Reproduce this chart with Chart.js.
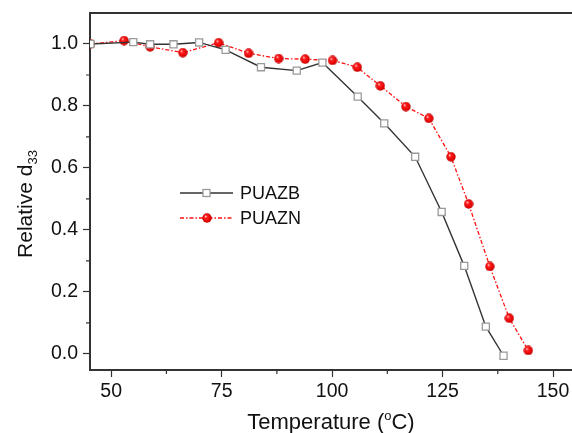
<!DOCTYPE html>
<html>
<head>
<meta charset="utf-8">
<script src="https://cdn.jsdelivr.net/npm/chart.js@4/dist/chart.umd.min.js"></script>
<style>
  html, body { margin: 0; padding: 0; background: #fff; }
</style>
</head>
<body>
<canvas id="d33Chart" width="572" height="433"></canvas>
<script>
// Data
const puazbTemp = [45.3, 55.0, 58.8, 64.1, 69.9, 75.9, 83.9, 92.0, 97.8, 105.8, 111.8, 118.8, 124.8, 129.9, 134.8, 138.8];
const puazbD33  = [1.000, 1.006, 0.999, 0.999, 1.005, 0.981, 0.925, 0.914, 0.940, 0.830, 0.744, 0.636, 0.458, 0.284, 0.088, -0.006];

const puaznTemp = [45.3, 52.9, 58.8, 66.2, 74.3, 81.1, 87.9, 93.9, 100.1, 105.7, 110.9, 116.7, 121.9, 126.9, 130.9, 135.7, 140.1, 144.4];
const puaznD33  = [1.000, 1.011, 0.991, 0.972, 1.004, 0.970, 0.953, 0.951, 0.947, 0.925, 0.865, 0.798, 0.760, 0.636, 0.484, 0.282, 0.115, 0.011];

const xTicks = [50, 75, 100, 125, 150];
const xMinorTicks = [62.5, 87.5, 112.5, 137.5];
const yTicks = [0.0, 0.2, 0.4, 0.6, 0.8, 1.0];
const yMinorTicks = [0.1, 0.3, 0.5, 0.7, 0.9];

const FONT = '"Liberation Sans", Arial, sans-serif';
const AXIS_COLOR = '#333';

// little shaded red ball used as point marker
function makeBall(size) {
    const c = document.createElement('canvas');
    c.width = size; c.height = size;
    const g = c.getContext('2d');
    const r = size / 2;
    const grad = g.createRadialGradient(r * 0.7, r * 0.65, 0.3, r, r, r);
    grad.addColorStop(0, '#ffd0d0');
    grad.addColorStop(0.25, '#ff2020');
    grad.addColorStop(0.8, '#e00000');
    grad.addColorStop(1, '#a00000');
    g.fillStyle = grad;
    g.beginPath();
    g.arc(r, r, r - 0.3, 0, Math.PI * 2);
    g.fill();
    return c;
}
const ball = makeBall(10);

// Draws the top frame, minor ticks, axis titles and the in-plot legend
const decorPlugin = {
    id: 'decor',
    afterDraw(chart) {
        const ctx = chart.ctx;
        const area = chart.chartArea;
        const xs = chart.scales.x, ys = chart.scales.y;
        ctx.save();

        // top frame line
        ctx.strokeStyle = AXIS_COLOR;
        ctx.lineWidth = 2;
        ctx.beginPath();
        ctx.moveTo(area.left - 1, area.top);
        ctx.lineTo(chart.width, area.top);
        ctx.stroke();

        // minor ticks
        ctx.lineWidth = 1.2;
        ctx.beginPath();
        xMinorTicks.forEach(v => {
            const px = xs.getPixelForValue(v);
            ctx.moveTo(px, area.bottom);
            ctx.lineTo(px, area.bottom + 4);
        });
        yMinorTicks.forEach(v => {
            const py = ys.getPixelForValue(v);
            ctx.moveTo(area.left, py);
            ctx.lineTo(area.left - 4, py);
        });
        ctx.stroke();

        // x title: Temperature (oC)
        ctx.fillStyle = '#111';
        ctx.textBaseline = 'alphabetic';
        const big = '22px ' + FONT, small = '13px ' + FONT;
        const parts = [['Temperature (', big, 0], ['o', small, -9], ['C)', big, 0]];
        let total = 0;
        parts.forEach(p => { ctx.font = p[1]; total += ctx.measureText(p[0]).width; });
        let x = (area.left + chart.width) / 2 - total / 2;
        parts.forEach(p => {
            ctx.font = p[1];
            ctx.fillText(p[0], x, 429 + p[2]);
            x += ctx.measureText(p[0]).width;
        });

        // y title: Relative d33
        ctx.save();
        ctx.translate(32, 204);
        ctx.rotate(-Math.PI / 2);
        const ybig = '21px ' + FONT;
        const yparts = [['Relative d', ybig, 0], ['33', small, 5]];
        total = 0;
        yparts.forEach(p => { ctx.font = p[1]; total += ctx.measureText(p[0]).width; });
        x = -total / 2;
        yparts.forEach(p => {
            ctx.font = p[1];
            ctx.fillText(p[0], x, p[2]);
            x += ctx.measureText(p[0]).width;
        });
        ctx.restore();

        // legend
        const rows = [193, 218];
        chart.data.datasets.forEach((ds, i) => {
            const y = rows[i];
            ctx.strokeStyle = ds.borderColor;
            ctx.lineWidth = ds.borderWidth;
            ctx.setLineDash(ds.borderDash || []);
            ctx.beginPath();
            ctx.moveTo(180, y);
            ctx.lineTo(233, y);
            ctx.stroke();
            ctx.setLineDash([]);
            if (ds.pointStyle === 'rect') {
                ctx.fillStyle = '#fff';
                ctx.fillRect(203, y - 3.5, 7, 7);
                ctx.strokeStyle = ds.pointBorderColor;
                ctx.lineWidth = ds.pointBorderWidth;
                ctx.strokeRect(203, y - 3.5, 7, 7);
            } else {
                ctx.drawImage(ball, 207 - 5, y - 5);
            }
            ctx.fillStyle = '#111';
            ctx.font = '18px ' + FONT;
            ctx.textBaseline = 'middle';
            ctx.fillText(ds.label, 240, y + 1);
        });

        ctx.restore();
    }
};

new Chart(document.getElementById('d33Chart').getContext('2d'), {
    type: 'line',
    data: {
        datasets: [{
            label: 'PUAZB',
            data: puazbTemp.map((t, i) => ({ x: t, y: puazbD33[i] })),
            borderColor: '#333',
            borderWidth: 1.4,
            pointStyle: 'rect',
            pointRadius: 5,
            pointBackgroundColor: '#fff',
            pointBorderColor: '#9a9a9a',
            pointBorderWidth: 1.3,
            tension: 0
        }, {
            label: 'PUAZN',
            data: puaznTemp.map((t, i) => ({ x: t, y: puaznD33[i] })),
            borderColor: '#ff1010',
            borderWidth: 1.3,
            borderDash: [4, 2, 1.5, 2],
            pointStyle: ball,
            pointRadius: 5,
            tension: 0
        }]
    },
    options: {
        responsive: false,
        animation: false,
        layout: { autoPadding: false, padding: { top: 13, right: 0, left: 0, bottom: 0 } },
        plugins: {
            legend: { display: false },
            tooltip: { enabled: false }
        },
        scales: {
            x: {
                type: 'linear',
                min: 45.2,
                max: 154.3,
                afterFit: scale => {
                    scale.height = 63;
                    scale.paddingLeft = 0;
                    scale.paddingRight = 0;
                },
                afterBuildTicks: scale => { scale.ticks = xTicks.map(v => ({ value: v })); },
                border: { color: AXIS_COLOR, width: 2 },
                grid: { drawOnChartArea: false, tickLength: 7, tickColor: AXIS_COLOR, tickWidth: 1.2 },
                ticks: { color: '#111', font: { family: FONT, size: 19.5 }, padding: 3, maxRotation: 0 }
            },
            y: {
                min: -0.052,
                max: 1.1,
                afterFit: scale => {
                    scale.width = 90;
                    scale.paddingTop = 0;
                    scale.paddingBottom = 0;
                },
                afterBuildTicks: scale => { scale.ticks = yTicks.map(v => ({ value: v })); },
                border: { color: AXIS_COLOR, width: 2 },
                grid: { drawOnChartArea: false, tickLength: 7, tickColor: AXIS_COLOR, tickWidth: 1.2 },
                ticks: {
                    color: '#111',
                    font: { family: FONT, size: 19.5 },
                    padding: 5,
                    callback: v => v.toFixed(1)
                }
            }
        }
    },
    plugins: [decorPlugin]
});
</script>
</body>
</html>
